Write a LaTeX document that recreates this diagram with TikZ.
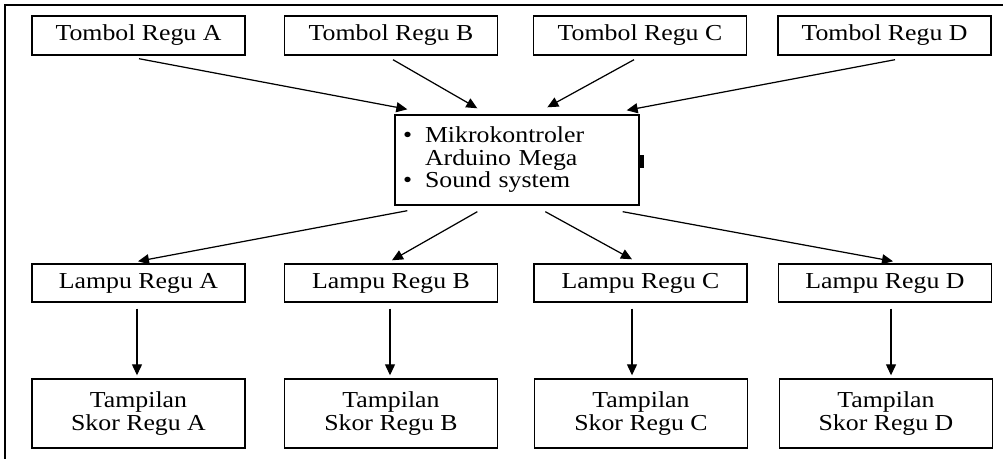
\documentclass[tikz,border=0pt]{standalone}
\usepackage{fontspec}
\setmainfont{Liberation Serif}[FakeStretch=1.13]
\usetikzlibrary{arrows.meta}
\newcommand{\bigbul}{\makebox[0.44cm][l]{\textbullet}}
\begin{document}
\begin{tikzpicture}[x=0.02cm,y=-0.02cm,
  box/.style={draw, line width=0.8pt, inner sep=0pt, align=center,
    font=\fontsize{13}{12.8}\selectfont},
  topbox/.style={box, minimum width=4.26cm, minimum height=0.78cm},
  lampbox/.style={box, minimum width=4.26cm, minimum height=0.76cm},
  skorbox/.style={box, minimum width=4.26cm, minimum height=1.38cm},
  arr/.style={line width=0.7pt, -{Triangle[length=0.22cm,width=0.2cm]}}]
\useasboundingbox (0,0) rectangle (1003,459);
% outer frame (right and bottom sides lie outside the picture)
\draw[line width=1.1pt] (5,470) -- (5,5) -- (1010,5);

% top row
\node[topbox] (tomA) at (138.5,35.5) {Tombol Regu A};
\node[topbox] (tomB) at (391,35.5) {Tombol Regu B};
\node[topbox] (tomC) at (640,35.5) {Tombol Regu C};
\node[topbox] (tomD) at (884.5,35.5) {Tombol Regu D};

% centre box
\node[box, minimum width=4.88cm, minimum height=1.8cm, text width=4.56cm,
  inner xsep=0.16cm, align=left] (cen) at (517,160)
  {\bigbul Mikrokontroler\\
   \hspace*{0.44cm}Arduino Mega\\
   \bigbul Sound system};
\fill (639,155) rectangle (643.5,168);

% lamp row
\node[lampbox] (lampA) at (138.5,283) {Lampu Regu A};
\node[lampbox] (lampB) at (391,283) {Lampu Regu B};
\node[lampbox] (lampC) at (640.5,283) {Lampu Regu C};
\node[lampbox] (lampD) at (885,283) {Lampu Regu D};

% score row
\node[skorbox] (tamA) at (138.5,413.5) {Tampilan\\Skor Regu A};
\node[skorbox] (tamB) at (391,413.5) {Tampilan\\Skor Regu B};
\node[skorbox] (tamC) at (641,413.5) {Tampilan\\Skor Regu C};
\node[skorbox] (tamD) at (886,413.5) {Tampilan\\Skor Regu D};

% inputs to centre
\draw[arr] ([shift={(0.5,3)}]tomA.south) -- ([shift={(13,-5)}]cen.north west);
\draw[arr] ([shift={(2,4)}]tomB.south) -- ([shift={(83,-6)}]cen.north west);
\draw[arr] ([shift={(-6,4)}]tomC.south) -- ([shift={(153,-7)}]cen.north west);
\draw[arr] ([shift={(10.5,4)}]tomD.south) -- ([shift={(-13,-4)}]cen.north east);

% centre to lamps
\draw[arr] ([shift={(13,5)}]cen.south west) -- ([shift={(-0.5,-2)}]lampA.north);
\draw[arr] ([shift={(83,6)}]cen.south west) -- ([shift={(1,-3)}]lampB.north);
\draw[arr] ([shift={(151,6)}]cen.south west) -- ([shift={(-8.5,-4)}]lampC.north);
\draw[arr] ([shift={(-17,6)}]cen.south east) -- ([shift={(8,-2)}]lampD.north);

% lamps to scores
\draw[arr] ([shift={(-1.5,6)}]lampA.south) -- ([shift={(-1.5,-3)}]tamA.north);
\draw[arr] ([shift={(-1,6)}]lampB.south) -- ([shift={(-1,-3)}]tamB.north);
\draw[arr] ([shift={(-8.5,6)}]lampC.south) -- ([shift={(-9,-3)}]tamC.north);
\draw[arr] ([shift={(6,6)}]lampD.south) -- ([shift={(5,-3)}]tamD.north);
\end{tikzpicture}
\end{document}
